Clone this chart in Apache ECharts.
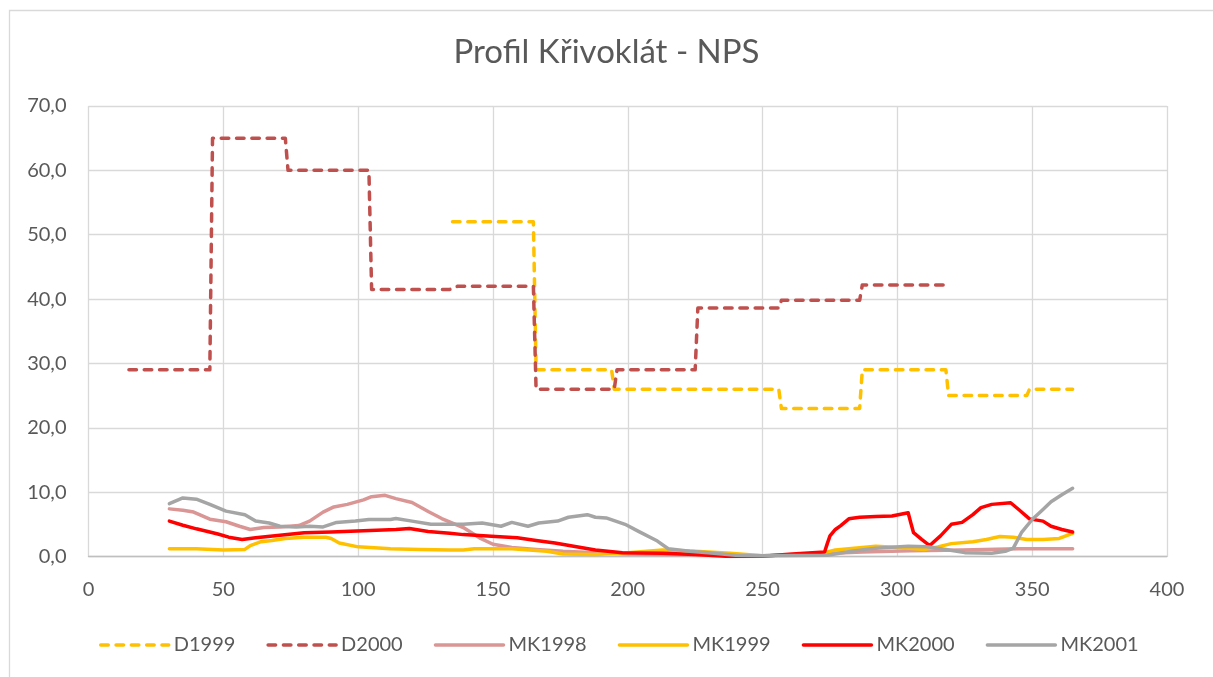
<!DOCTYPE html>
<html>
<head>
<meta charset="utf-8">
<title>Profil Křivoklát - NPS</title>
<script src="https://cdn.jsdelivr.net/npm/echarts@6/dist/echarts.min.js"></script>
<style>
  html, body { margin: 0; padding: 0; background: #fff; }
  #chart { width: 1213px; height: 677px; }
</style>
</head>
<body>
<div id="chart"></div>
<script>
// [den, hodnota]
var D1999 = [[135, 52], [165, 52], [166, 29], [194, 29], [195, 26], [256, 26], [257, 23], [286, 23],
  [287, 29], [318, 29], [319, 25], [348, 25], [349, 26], [365, 26]]
var D2000 = [[15, 29], [45, 29], [46, 65], [73, 65], [74, 60], [104, 60], [105, 41.5], [134, 41.5],
  [137, 42], [165, 42], [166, 26], [195, 26], [196, 29], [225, 29], [226, 38.6], [256, 38.6],
  [257, 39.8], [286, 39.8], [287, 42.2], [318, 42.2]]
var MK1998 = [[30, 7.4], [35, 7.2], [39, 6.9], [45, 5.8], [51, 5.4], [56, 4.7], [60, 4.2], [65, 4.5],
  [71, 4.6], [78, 4.8], [82, 5.5], [87, 6.9], [91, 7.7], [96, 8.1], [102, 8.8], [105, 9.3], [110, 9.5],
  [114, 9.0], [120, 8.4], [126, 7.0], [131, 5.9], [139, 4.5], [145, 2.9], [150, 1.9], [157, 1.4],
  [166, 1.1], [176, 0.8], [188, 0.6], [200, 0.4], [215, 0.3], [230, 0.2], [250, 0.1], [265, 0.3],
  [287, 0.7], [305, 0.9], [324, 1.0], [345, 1.2], [365, 1.2]]
var MK1999 = [[30, 1.2], [40, 1.2], [50, 1.0], [58, 1.1], [60, 1.7], [64, 2.3], [68, 2.5], [73, 2.8],
  [80, 3.0], [88, 3.0], [90, 2.8], [93, 2.1], [100, 1.5], [112, 1.2], [123, 1.1], [134, 1.0], [139, 1.0],
  [143, 1.2], [157, 1.2], [170, 0.8], [176, 0.4], [188, 0.3], [200, 0.6], [213, 1.0], [225, 0.8],
  [238, 0.5], [250, 0.1], [262, 0.3], [273, 0.6], [277, 1.0], [286, 1.35], [292, 1.6], [302, 1.35],
  [310, 1.1], [315, 1.5], [320, 2.0], [328, 2.3], [333, 2.65], [338, 3.1], [343, 3.0], [348, 2.65],
  [354, 2.65], [360, 2.8], [365, 3.6]]
var MK2000 = [[30, 5.5], [35, 4.85], [40, 4.3], [48, 3.5], [52, 3.0], [57, 2.65], [62, 2.9], [71, 3.3],
  [80, 3.7], [90, 3.8], [102, 4.0], [114, 4.2], [119, 4.35], [126, 3.9], [134, 3.6], [139, 3.4],
  [151, 3.1], [159, 2.9], [166, 2.5], [173, 2.1], [181, 1.5], [188, 1.0], [198, 0.6], [213, 0.5],
  [225, 0.3], [238, 0.0], [250, 0.05], [261, 0.4], [273, 0.7], [274, 2.0], [275, 3.2], [277, 4.2],
  [279, 4.8], [282, 5.85], [286, 6.1], [292, 6.2], [298, 6.3], [304, 6.8], [305, 5.2], [306, 3.7],
  [309, 2.65], [312, 1.7], [316, 3.2], [320, 5.0], [324, 5.3], [328, 6.5], [331, 7.6], [335, 8.1],
  [342, 8.35], [345, 7.3], [349, 5.85], [354, 5.5], [357, 4.7], [361, 4.2], [365, 3.8]]
var MK2001 = [[30, 8.2], [35, 9.1], [40, 8.9], [45, 8.1], [51, 7.05], [58, 6.5], [62, 5.5], [67, 5.2],
  [71, 4.7], [77, 4.6], [82, 4.7], [87, 4.6], [92, 5.3], [99, 5.5], [104, 5.75], [112, 5.75], [114, 5.9],
  [120, 5.5], [127, 5.0], [134, 5.0], [139, 5.0], [146, 5.2], [153, 4.7], [157, 5.3], [163, 4.7],
  [167, 5.2], [174, 5.5], [178, 6.1], [185, 6.5], [188, 6.1], [192, 6.0], [199, 5.0], [204, 3.9],
  [211, 2.4], [215, 1.2], [223, 0.8], [232, 0.5], [240, 0.2], [250, 0.1], [274, 0.2], [283, 0.8],
  [292, 1.3], [304, 1.6], [311, 1.5], [318, 1.1], [325, 0.6], [335, 0.5], [340, 0.8], [343, 1.3],
  [346, 3.7], [350, 5.75], [354, 7.3], [357, 8.5], [361, 9.6], [365, 10.6]]

var font = 'Lato'
var textColor = '#595959'

function dashed(name, data, color) {
  return {
    name: name, type: 'line', data: data, symbol: 'none',
    lineStyle: { color: color, width: 3.5, type: [7.5, 7.8], cap: 'round', join: 'round' },
    itemStyle: { color: color }
  }
}
function solid(name, data, color) {
  return {
    name: name, type: 'line', data: data, symbol: 'none',
    lineStyle: { color: color, width: 3.5, cap: 'round', join: 'round' },
    itemStyle: { color: color }
  }
}

var chart = echarts.init(document.getElementById('chart'))
chart.setOption({
  animation: false,
  backgroundColor: '#fff',
  textStyle: { fontFamily: font },
  graphic: [{
    type: 'rect', left: 7, top: 8, shape: { width: 1230, height: 700 },
    style: { fill: 'none', stroke: '#d9d9d9', lineWidth: 1.3 }, silent: true
  }],
  title: {
    text: 'Profil Křivoklát - NPS', left: 'center', top: 31,
    textStyle: { fontFamily: font, fontSize: 33, fontWeight: 'normal', color: textColor }
  },
  grid: { left: 88.5, right: 46, top: 106, bottom: 120.5 },
  legend: {
    left: 94, top: 630, itemWidth: 68, itemHeight: 14, itemGap: 31,
    itemStyle: { opacity: 0 },
    lineStyle: { width: 3.5 },
    textStyle: { fontFamily: font, fontSize: 20, color: textColor },
    data: ['D1999', 'D2000', 'MK1998', 'MK1999', 'MK2000', 'MK2001']
  },
  xAxis: {
    type: 'value', min: 0, max: 400, interval: 50,
    axisLine: { show: true, onZero: false, lineStyle: { color: '#bfbfbf', width: 1.3 } },
    axisTick: { show: false },
    axisLabel: { fontFamily: font, fontSize: 20, color: textColor, margin: 23 },
    splitLine: { show: true, lineStyle: { color: '#d9d9d9', width: 1.3 } }
  },
  yAxis: {
    type: 'value', min: 0, max: 70, interval: 10,
    axisLine: { show: false },
    axisTick: { show: false },
    axisLabel: {
      fontFamily: font, fontSize: 20, color: textColor, margin: 22,
      formatter: function (v) { return v.toFixed(1).replace('.', ',') }
    },
    splitLine: { show: true, lineStyle: { color: '#d9d9d9', width: 1.3 } }
  },
  series: [
    dashed('D1999', D1999, '#ffc000'),
    dashed('D2000', D2000, '#c0504d'),
    solid('MK1998', MK1998, '#d99694'),
    solid('MK1999', MK1999, '#ffc000'),
    solid('MK2000', MK2000, '#ff0000'),
    solid('MK2001', MK2001, '#a5a5a5')
  ]
})
</script>
</body>
</html>
